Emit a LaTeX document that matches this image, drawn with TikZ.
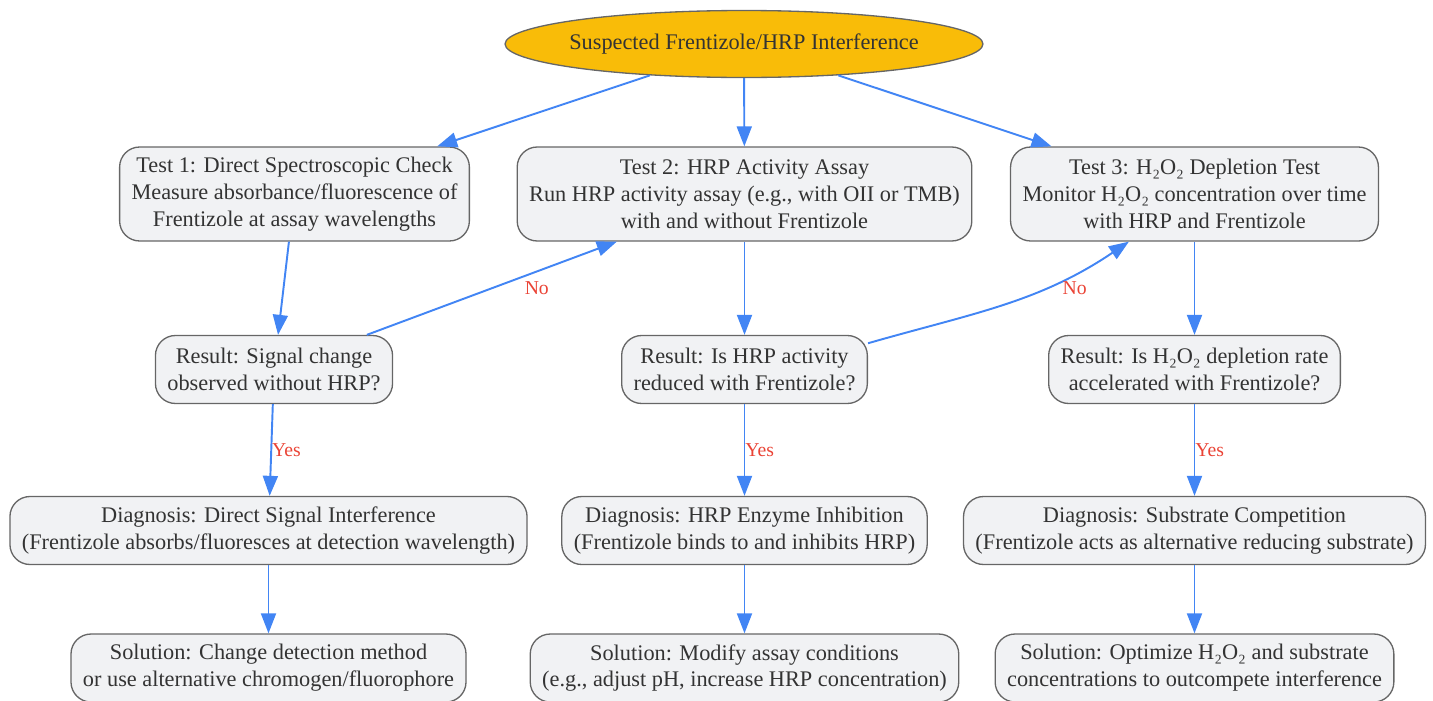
\documentclass[tikz,border=0pt]{standalone}
\usepackage{fontspec}
\setmainfont{Liberation Serif}
\usepackage{xcolor}
\usetikzlibrary{arrows.meta,shapes.geometric}
\definecolor{flowblue}{HTML}{4285F4}
\definecolor{flowred}{HTML}{EA4335}
\definecolor{flowgold}{HTML}{F9BC08}
\definecolor{flowgray}{HTML}{F1F2F4}
\definecolor{flowline}{HTML}{666666}
\definecolor{flowtext}{HTML}{333333}

\begin{document}
\begin{tikzpicture}[x=0.02cm,y=0.02cm,
    box/.style={draw=flowline,fill=flowgray,line width=0.75pt,rounded corners=0.4cm,
        align=center,text=flowtext,inner xsep=6.8pt,inner ysep=0pt,
        font=\fontsize{12.7}{15.3}\selectfont,
        execute at begin node={\rule{0pt}{12.8pt}}},
    tallbox/.style={box,minimum height=1.88cm},
    flatbox/.style={box,minimum height=1.36cm},
    topic/.style={ellipse,draw=flowline,fill=flowgold,line width=0.75pt,
        minimum width=9.56cm,minimum height=1.34cm,inner sep=0pt,text=flowtext,
        font=\fontsize{12.7}{15.3}\selectfont},
    link/.style={draw=flowblue,line width=1.1pt,-{Triangle[length=0.4cm,width=0.3cm]}},
    lbl/.style={text=flowred,font=\fontsize{11.2}{13}\selectfont,inner sep=2pt}]

    \useasboundingbox (0,0) rectangle (1433,-700);

    \def \ca {268.5};
    \def \cb {744.5};
    \def \cc {1194.5};

    \node (top) at (744,-44) [topic] {\makebox[0pt]{\raisebox{-1pt}{Suspected Frentizole/HRP Interference}}};

    \node (t1) at (294.5,-194) [tallbox] {Test 1: Direct Spectroscopic Check\\Measure absorbance/fluorescence of\\Frentizole at assay wavelengths};
    \node (t2) at (\cb,-194) [tallbox] {Test 2: HRP Activity Assay\\Run HRP activity assay (e.g., with OII or TMB)\\with and without Frentizole};
    \node (t3) at (\cc,-194) [tallbox] {Test 3: H₂O₂ Depletion Test\\Monitor H₂O₂ concentration over time\\with HRP and Frentizole};

    \node (r1) at (274,-369.5) [flatbox] {Result: Signal change\\observed without HRP?};
    \node (r2) at (\cb,-369.5) [flatbox] {Result: Is HRP activity\\reduced with Frentizole?};
    \node (r3) at (\cc,-369.5) [flatbox] {Result: Is H₂O₂ depletion rate\\accelerated with Frentizole?};

    \node (d1) at (\ca,-530.5) [flatbox] {Diagnosis: Direct Signal Interference\\(Frentizole absorbs/fluoresces at detection wavelength)};
    \node (d2) at (\cb,-530.5) [flatbox] {Diagnosis: HRP Enzyme Inhibition\\(Frentizole binds to and inhibits HRP)};
    \node (d3) at (\cc,-530.5) [flatbox] {Diagnosis: Substrate Competition\\(Frentizole acts as alternative reducing substrate)};

    \node (s1) at (\ca,-668) [flatbox] {Solution: Change detection method\\or use alternative chromogen/fluorophore};
    \node (s2) at (\cb,-668) [flatbox] {Solution: Modify assay conditions\\(e.g., adjust pH, increase HRP concentration)};
    \node (s3) at (\cc,-668) [flatbox] {Solution: Optimize H₂O₂ and substrate\\concentrations to outcompete interference};

    \draw[link] (top) -- (t1);
    \draw[link] (top) -- (t2);
    \draw[link] (top) -- (t3);

    \draw[link] (t1) -- (r1);
    \draw[link] (t2) -- (r2);
    \draw[link] (t3) -- (r3);

    \draw[link] (r1) -- node[lbl,pos=0.68,below=3pt] {No} (t2);
    \draw[link] (r2.12) to[out=16,in=-146] node[lbl,pos=0.79,below=2pt] {No} (t3.-144);

    \draw[link] (r1) -- node[lbl,right,inner xsep=0pt] {Yes} (d1);
    \draw[link] (r2) -- node[lbl,right,inner xsep=0pt] {Yes} (d2);
    \draw[link] (r3) -- node[lbl,right,inner xsep=0pt] {Yes} (d3);

    \draw[link] (d1) -- (s1);
    \draw[link] (d2) -- (s2);
    \draw[link] (d3) -- (s3);
\end{tikzpicture}
\end{document}
